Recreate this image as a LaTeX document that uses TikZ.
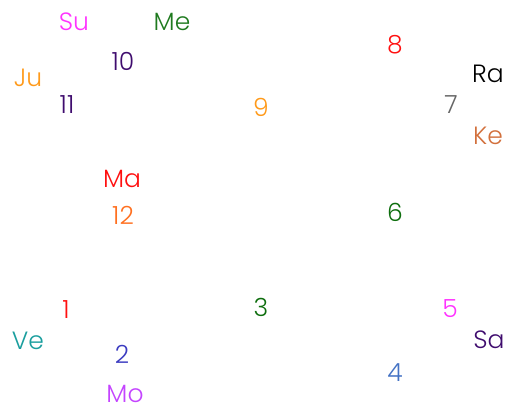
\documentclass[tikz,border=0pt]{standalone}
\usepackage{fontspec}
\setmainfont{Poppins}[UprightFont = * Light]
\definecolor{cmag}{HTML}{FF33FF}
\definecolor{cgreen}{HTML}{1F7A1F}
\definecolor{cindigo}{HTML}{3F0C6E}
\definecolor{corange}{HTML}{FF9A1A}
\definecolor{cred}{HTML}{FF1010}
\definecolor{cgray}{HTML}{666666}
\definecolor{cke}{HTML}{D2703C}
\definecolor{cor2}{HTML}{FF7020}
\definecolor{cdg}{HTML}{0E6E0E}
\definecolor{cteal}{HTML}{1A9E9E}
\definecolor{cblue}{HTML}{3B3BC0}
\definecolor{cblue2}{HTML}{4472C4}
\definecolor{cmo}{HTML}{C444FF}
\begin{document}
\begin{tikzpicture}[x=1pt,y=-1pt,
  lbl/.style={anchor=base,inner sep=0pt,font=\fontsize{25}{25}\selectfont}]
\useasboundingbox (0,0) rectangle (511,410);
\node[lbl,text=cmag]    (su)  at (74,30.5)  {Su};
\node[lbl,text=cgreen]  (me)  at (172,30.5) {Me};
\node[lbl,text=cindigo] (h10) at (123,70)   {10};
\node[lbl,text=corange] (ju)  at (28,86.5)  {Ju};
\node[lbl,text=cindigo] (h11) at (67,113.5) {11};
\node[lbl,text=corange] (h9)  at (261,116.5){9};
\node[lbl,text=cred]    (h8)  at (395,53.5) {8};
\node[lbl,text=black]   (ra)  at (488,82.5) {Ra};
\node[lbl,text=cgray]   (h7)  at (451,113.5){7};
\node[lbl,text=cke]     (ke)  at (488,144.5){Ke};
\node[lbl,text=cred]    (ma)  at (122,187.5){Ma};
\node[lbl,text=cor2]    (h12) at (123,224.5){12};
\node[lbl,text=cdg]     (h6)  at (395,221.5){6};
\node[lbl,text=cred]    (h1)  at (66,318.5) {1};
\node[lbl,text=cteal]   (ve)  at (28,349.5) {Ve};
\node[lbl,text=cdg]     (h3)  at (261,316.5){3};
\node[lbl,text=cmag]    (h5)  at (450,317.5){5};
\node[lbl,text=cindigo] (sa)  at (489,348.5){Sa};
\node[lbl,text=cblue]   (h2)  at (122,363.5){2};
\node[lbl,text=cblue2]  (h4)  at (395,381.5){4};
\node[lbl,text=cmo]     (mo)  at (125,402.5){Mo};
\end{tikzpicture}
\end{document}
